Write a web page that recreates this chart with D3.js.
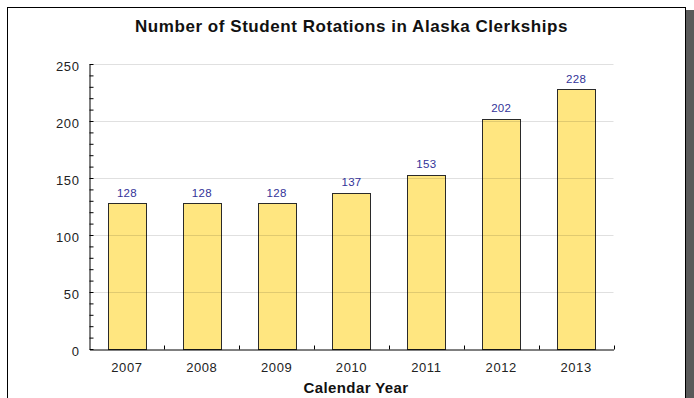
<!DOCTYPE html>
<html>
<head>
<meta charset="utf-8">
<script src="https://cdn.jsdelivr.net/npm/d3@7"></script>
<style>
  html, body { margin: 0; padding: 0; background: #fff; }
  svg { display: block; }
  text { font-family: "Liberation Sans", Arial, sans-serif; }
</style>
</head>
<body>
<script>
const years = ["2007", "2008", "2009", "2010", "2011", "2012", "2013"];
const rotations = [128, 128, 128, 137, 153, 202, 228];
const yMajorTicks = [0, 50, 100, 150, 200, 250];
const chartTitle = "Number of Student Rotations in Alaska Clerkships";
const xAxisTitle = "Calendar Year";

const W = 694, H = 398;
const svg = d3.select("body").append("svg").attr("width", W).attr("height", H);

// frame with shadow
svg.append("rect").attr("x", 686).attr("y", 10).attr("width", 8).attr("height", H - 10).attr("fill", "#5a5a5a");
svg.append("rect").attr("x", 7.5).attr("y", 7.5).attr("width", 678).attr("height", H + 10)
  .attr("fill", "#fff").attr("stroke", "#000").attr("stroke-width", 1);

const plotLeft = 89.5, plotRight = 613.5, plotTop = 64, plotBottom = 349;

const x = d3.scaleBand().domain(years).range([plotLeft, plotRight]).padding(0);
const y = d3.scaleLinear().domain([0, 250]).range([plotBottom, plotTop]);

// title
svg.append("text").attr("x", 351.5).attr("y", 32).attr("text-anchor", "middle")
  .attr("font-size", 17).attr("font-weight", "bold").attr("letter-spacing", 0.55)
  .attr("fill", "#111").text(chartTitle);

// bars
const barW = x.bandwidth() * 0.51;
svg.append("g").selectAll("rect").data(rotations).join("rect")
  .attr("x", (d, i) => Math.round(x(years[i]) + x.bandwidth() / 2 - barW / 2) + 0.5)
  .attr("y", d => Math.round(y(d)) + 0.5)
  .attr("width", Math.round(barW))
  .attr("height", d => plotBottom - Math.round(y(d)))
  .attr("fill", "#ffe680").attr("stroke", "#2a2a2a").attr("stroke-width", 1);

// gridlines (drawn over bars, translucent)
svg.append("g").selectAll("line").data(yMajorTicks.filter(v => v > 0)).join("line")
  .attr("x1", plotLeft).attr("x2", plotRight)
  .attr("y1", d => Math.round(y(d)) + 0.5).attr("y2", d => Math.round(y(d)) + 0.5)
  .attr("stroke", "rgba(0,0,0,0.12)").attr("stroke-width", 1);

// value labels
svg.append("g").selectAll("text").data(rotations).join("text")
  .attr("x", (d, i) => x(years[i]) + x.bandwidth() / 2)
  .attr("y", d => y(d) - 6.5)
  .attr("text-anchor", "middle").attr("font-size", 11.5).attr("letter-spacing", 0.3)
  .attr("fill", "#333399").text(d => d);

// y axis
const yAxis = d3.axisLeft(y).tickValues(d3.range(0, 251, 10))
  .tickSizeInner(-4).tickSizeOuter(0).tickPadding(10)
  .tickFormat(d => yMajorTicks.includes(d) ? d : "");
const gy = svg.append("g").attr("transform", `translate(${plotLeft},0)`).call(yAxis);
gy.selectAll("path, line").attr("stroke", "#000");
gy.selectAll("text").attr("font-size", 13).attr("letter-spacing", 0.6).attr("fill", "#222")
  .attr("dy", "0.5em").attr("font-family", "Liberation Sans, Arial, sans-serif");

// x axis
const xAxis = d3.axisBottom(x).tickSize(0).tickPadding(13);
const gx = svg.append("g").attr("transform", `translate(0,${plotBottom + 0.5})`).call(xAxis);
gx.selectAll("path").attr("stroke", "#000");
gx.selectAll("text").attr("font-size", 13).attr("letter-spacing", 0.6).attr("fill", "#222")
  .attr("font-family", "Liberation Sans, Arial, sans-serif");
gx.selectAll(".boundary").data(years).join("line").attr("class", "boundary")
  .attr("x1", d => Math.round(x(d) + x.step()) + 0.5).attr("x2", d => Math.round(x(d) + x.step()) + 0.5)
  .attr("y1", 0).attr("y2", -4).attr("stroke", "#000");

// x axis title
svg.append("text").attr("x", 356).attr("y", 393).attr("text-anchor", "middle")
  .attr("font-size", 15).attr("font-weight", "bold").attr("letter-spacing", 0.4)
  .attr("fill", "#111").text(xAxisTitle);
</script>
</body>
</html>
